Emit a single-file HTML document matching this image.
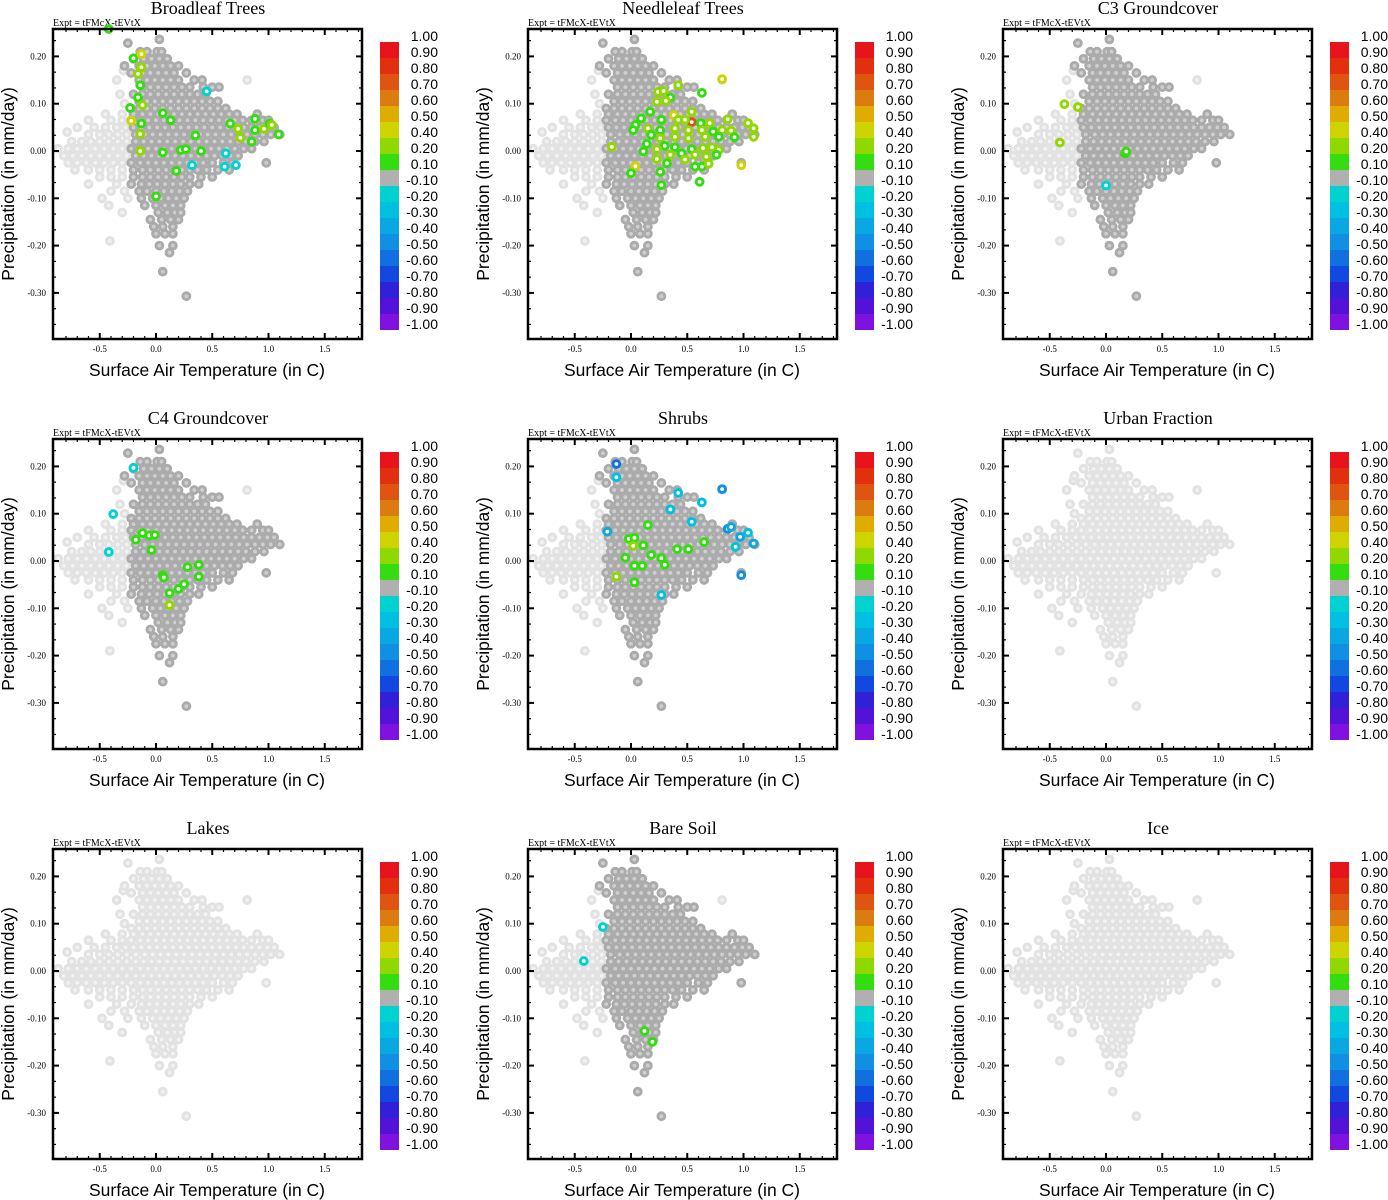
<!DOCTYPE html>
<html><head><meta charset="utf-8">
<style>
html,body{margin:0;padding:0;background:#fff;}
svg{display:block;}
.ttl{font-family:"Liberation Serif",serif;font-size:18px;}
.expt{font-family:"Liberation Serif",serif;font-size:10px;}
.tick{font-family:"Liberation Serif",serif;font-size:9px;}
.axl{font-family:"Liberation Sans",sans-serif;font-size:17.5px;}
.cbl{font-family:"Liberation Sans",sans-serif;font-size:14px;}
</style></head>
<body>
<svg id="chart" width="1388" height="1200" viewBox="0 0 1388 1200"></svg>
<script>
// ---- data ----
const panelTitles = ["Broadleaf Trees","Needleleaf Trees","C3 Groundcover","C4 Groundcover","Shrubs","Urban Fraction","Lakes","Bare Soil","Ice"];
const panelActive = [true,true,true,true,true,false,false,true,false];
const xTicks = [-0.5,0.0,0.5,1.0,1.5];
const xTickLabels = ["-0.5","0.0","0.5","1.0","1.5"];
const yTicks = [0.2,0.1,0.0,-0.1,-0.2,-0.3];
const yTickLabels = ["0.20","0.10","0.00","-0.10","-0.20","-0.30"];
const cbLabels = ["1.00","0.90","0.80","0.70","0.60","0.50","0.40","0.20","0.10","-0.10","-0.20","-0.30","-0.40","-0.50","-0.60","-0.70","-0.80","-0.90","-1.00"];
const cbLevels = [1.0,0.9,0.8,0.7,0.6,0.5,0.4,0.2,0.1,-0.1,-0.2,-0.3,-0.4,-0.5,-0.6,-0.7,-0.8,-0.9,-1.0];
const cbColors = ["#e8141c","#e2300f","#de5410","#dc7c10","#e0ac00","#cdd400","#8fd800","#33dd10","#b0b0b0","#00d2d2","#00c0e2","#0aa8e2","#1090e2","#1070e0","#1048e0","#3020d8","#5212d8","#8012e0"];

const corePts = [
[0.03,0.236],[-0.25,0.228],
[-0.14,0.21],[-0.08,0.21],[0.01,0.21],[0.05,0.21],
[-0.2,0.195],[-0.11,0.195],[-0.04,0.195],[0.03,0.195],[0.1,0.195],
[-0.28,0.18],[-0.15,0.18],[-0.08,0.18],[-0.01,0.18],[0.06,0.18],[0.13,0.18],[0.2,0.18],
[-0.22,0.165],[-0.12,0.165],[-0.05,0.165],[0.02,0.165],[0.09,0.165],[0.16,0.165],[0.27,0.165],
[-0.15,0.15],[-0.08,0.15],[-0.01,0.15],[0.06,0.15],[0.13,0.15],[0.2,0.15],[0.34,0.15],[0.41,0.15],
[-0.12,0.135],[-0.05,0.135],[0.02,0.135],[0.09,0.135],[0.16,0.135],[0.23,0.135],[0.3,0.135],[0.42,0.135],[0.5,0.135],[0.56,0.135],
[-0.2,0.12],[-0.12,0.12],[-0.05,0.12],[0.02,0.12],[0.09,0.12],[0.16,0.12],[0.23,0.12],[0.3,0.12],[0.37,0.12],[0.44,0.12],
[-0.15,0.105],[-0.08,0.105],[-0.01,0.105],[0.06,0.105],[0.13,0.105],[0.2,0.105],[0.27,0.105],[0.34,0.105],[0.41,0.105],[0.48,0.105],[0.55,0.105],
[-0.22,0.09],[-0.15,0.09],[-0.08,0.09],[-0.01,0.09],[0.06,0.09],[0.13,0.09],[0.2,0.09],[0.27,0.09],[0.34,0.09],[0.41,0.09],[0.48,0.09],[0.55,0.09],[0.62,0.09],
[-0.2,0.078],[-0.12,0.078],[-0.05,0.078],[0.02,0.078],[0.09,0.078],[0.16,0.078],[0.23,0.078],[0.3,0.078],[0.37,0.078],[0.44,0.078],[0.51,0.078],[0.58,0.078],[0.65,0.078],[0.72,0.078],[0.9,0.078],
[-0.22,0.065],[-0.14,0.065],[-0.07,0.065],[0,0.065],[0.07,0.065],[0.14,0.065],[0.21,0.065],[0.28,0.065],[0.35,0.065],[0.42,0.065],[0.49,0.065],[0.56,0.065],[0.63,0.065],[0.7,0.065],[0.77,0.065],[0.85,0.065],[0.95,0.065],[1.0,0.065],
[-0.2,0.05],[-0.13,0.05],[-0.06,0.05],[0.01,0.05],[0.08,0.05],[0.15,0.05],[0.22,0.05],[0.29,0.05],[0.36,0.05],[0.43,0.05],[0.5,0.05],[0.57,0.05],[0.64,0.05],[0.71,0.05],[0.78,0.05],[0.85,0.05],[0.92,0.05],[0.99,0.05],[1.05,0.05],
[-0.18,0.035],[-0.1,0.035],[-0.03,0.035],[0.04,0.035],[0.11,0.035],[0.18,0.035],[0.25,0.035],[0.32,0.035],[0.39,0.035],[0.46,0.035],[0.53,0.035],[0.6,0.035],[0.67,0.035],[0.74,0.035],[0.81,0.035],[0.88,0.035],[0.95,0.035],[1.02,0.035],[1.1,0.035],
[-0.18,0.02],[-0.11,0.02],[-0.04,0.02],[0.03,0.02],[0.1,0.02],[0.17,0.02],[0.24,0.02],[0.31,0.02],[0.38,0.02],[0.45,0.02],[0.52,0.02],[0.59,0.02],[0.66,0.02],[0.73,0.02],[0.8,0.02],[0.88,0.02],[0.96,0.02],
[-0.22,0.005],[-0.14,0.005],[-0.07,0.005],[0,0.005],[0.07,0.005],[0.14,0.005],[0.21,0.005],[0.28,0.005],[0.35,0.005],[0.42,0.005],[0.49,0.005],[0.56,0.005],[0.63,0.005],[0.7,0.005],[0.78,0.005],[0.85,0.005],
[-0.18,-0.01],[-0.11,-0.01],[-0.04,-0.01],[0.03,-0.01],[0.1,-0.01],[0.17,-0.01],[0.24,-0.01],[0.31,-0.01],[0.38,-0.01],[0.45,-0.01],[0.52,-0.01],[0.59,-0.01],[0.66,-0.01],[0.73,-0.01],
[-0.22,-0.025],[-0.14,-0.025],[-0.07,-0.025],[0,-0.025],[0.07,-0.025],[0.14,-0.025],[0.21,-0.025],[0.28,-0.025],[0.35,-0.025],[0.42,-0.025],[0.5,-0.025],[0.6,-0.025],[0.68,-0.025],[0.98,-0.025],
[-0.2,-0.04],[-0.12,-0.04],[-0.05,-0.04],[0.02,-0.04],[0.09,-0.04],[0.16,-0.04],[0.23,-0.04],[0.3,-0.04],[0.37,-0.04],[0.45,-0.04],[0.55,-0.04],[0.65,-0.04],
[-0.2,-0.055],[-0.12,-0.055],[-0.05,-0.055],[0.02,-0.055],[0.09,-0.055],[0.16,-0.055],[0.23,-0.055],[0.3,-0.055],[0.4,-0.055],[0.5,-0.055],
[-0.22,-0.07],[-0.13,-0.07],[-0.06,-0.07],[0.01,-0.07],[0.08,-0.07],[0.15,-0.07],[0.22,-0.07],[0.3,-0.07],[0.38,-0.07],
[-0.15,-0.085],[-0.08,-0.085],[0,-0.085],[0.07,-0.085],[0.14,-0.085],[0.21,-0.085],[0.28,-0.085],
[-0.13,-0.1],[-0.03,-0.1],[0.04,-0.1],[0.11,-0.1],[0.18,-0.1],[0.25,-0.1],
[-0.1,-0.115],[0.0,-0.115],[0.08,-0.115],[0.15,-0.115],[0.22,-0.115],
[0.02,-0.13],[0.1,-0.13],[0.17,-0.13],[0.22,-0.13],
[-0.05,-0.145],[0.05,-0.145],[0.13,-0.145],[0.2,-0.145],
[-0.02,-0.16],[0.06,-0.16],[0.15,-0.16],
[0.0,-0.175],[0.08,-0.175],[0.15,-0.175],
[0.03,-0.2],[0.15,-0.2],[0.12,-0.215],[0.06,-0.255],[0.27,-0.307]
];
const wingPts = [
[-0.29,0.17],[-0.35,0.15],[-0.32,0.12],[0.12,0.165],[0.81,0.15],[-0.28,0.1],
[-0.45,0.078],[-0.3,0.078],[-0.6,0.065],[-0.4,0.065],[-0.3,0.065],
[-0.7,0.05],[-0.55,0.05],[-0.45,0.05],[-0.35,0.05],[-0.27,0.05],
[-0.79,0.04],[-0.6,0.035],[-0.5,0.035],[-0.42,0.035],[-0.34,0.035],[-0.26,0.035],
[-0.75,0.02],[-0.66,0.02],[-0.58,0.02],[-0.5,0.02],[-0.42,0.02],[-0.34,0.02],[-0.26,0.02],
[-0.87,0.005],[-0.78,0.005],[-0.7,0.005],[-0.62,0.005],[-0.54,0.005],[-0.46,0.005],[-0.38,0.005],[-0.3,0.005],
[-0.82,-0.01],[-0.74,-0.01],[-0.66,-0.01],[-0.58,-0.01],[-0.5,-0.01],[-0.42,-0.01],[-0.34,-0.01],[-0.26,-0.01],
[-0.78,-0.025],[-0.7,-0.025],[-0.62,-0.025],[-0.54,-0.025],[-0.46,-0.025],[-0.38,-0.025],[-0.3,-0.025],
[-0.72,-0.04],[-0.6,-0.04],[-0.5,-0.04],[-0.4,-0.04],[-0.3,-0.04],
[-0.5,-0.055],[-0.4,-0.055],[-0.3,-0.055],[-0.6,-0.07],[-0.35,-0.07],
[-0.4,-0.085],[-0.28,-0.085],[-0.48,-0.1],[-0.25,-0.1],[-0.42,-0.115],[-0.3,-0.13],[-0.41,-0.19]
];
const colBroadleaf = [
[-0.42,0.258,0.15],[-0.2,0.196,0.15],[-0.13,0.205,0.45],[-0.13,0.177,0.3],[-0.16,0.163,0.3],[-0.14,0.139,0.15],[-0.16,0.113,0.15],[-0.12,0.097,0.3],[-0.23,0.091,0.15],[-0.22,0.064,0.45],[-0.13,0.058,0.15],[-0.14,0.036,0.3],[-0.14,0.0,0.3],
[0.06,0.08,0.15],[0.13,0.065,0.15],[0.06,-0.003,0.15],[0.18,-0.042,0.15],[0.0,-0.096,0.15],[0.22,0.002,0.15],[0.265,0.004,0.15],[0.35,0.033,0.15],[0.4,0.0,0.15],
[0.66,0.058,0.15],[0.73,0.047,0.3],[0.75,0.028,0.3],[0.85,0.02,0.15],[0.88,0.068,0.15],[0.88,0.044,0.15],[0.96,0.047,0.3],[1.01,0.058,0.15],[1.03,0.055,0.3],[1.09,0.035,0.15],
[0.45,0.126,-0.15],[0.61,-0.033,-0.15],[0.71,-0.03,-0.15],[0.32,-0.03,-0.15],[0.62,-0.005,-0.15]
];
const colNeedleleaf = [
[0.81,0.152,0.45],[0.42,0.139,0.3],[0.63,0.123,0.15],[0.24,0.125,0.3],[0.29,0.127,0.3],[0.35,0.113,0.15],[0.23,0.104,0.3],[0.31,0.106,0.3],
[0.17,0.083,0.15],[0.38,0.076,0.45],[0.54,0.083,0.3],[0.54,0.061,0.75],[0.09,0.069,0.15],[0.27,0.066,0.15],[0.42,0.066,0.3],[0.48,0.066,0.3],
[0.62,0.059,0.15],[0.70,0.059,0.3],[0.86,0.067,0.3],[1.04,0.059,0.3],[1.09,0.048,0.3],[0.04,0.055,0.15],[0.02,0.044,0.15],[0.15,0.048,0.3],
[0.26,0.044,0.15],[0.39,0.048,0.3],[0.51,0.044,0.3],[0.63,0.044,0.3],[0.73,0.041,0.15],[0.81,0.044,0.3],[0.89,0.043,0.3],[1.09,0.03,0.3],
[0.92,0.029,0.15],[0.78,0.03,0.15],[0.66,0.03,0.3],[0.51,0.027,0.3],[0.39,0.03,0.3],[0.26,0.027,0.3],[0.18,0.034,0.15],[-0.17,0.009,0.3],
[0.14,0.015,0.15],[0.30,0.011,0.15],[0.39,0.008,0.15],[0.54,0.004,0.15],[0.64,0.006,0.3],[0.72,0.008,0.3],[0.78,0.002,0.3],[0.11,-0.001,0.15],
[0.23,0.004,0.3],[0.45,-0.005,0.15],[0.57,-0.008,0.3],[0.67,-0.012,0.3],[0.76,-0.008,0.15],[0.35,-0.008,0.3],[0.23,-0.017,0.3],[0.32,-0.026,0.15],
[0.04,-0.032,0.45],[0.48,-0.018,0.3],[0.57,-0.033,0.15],[0.63,-0.033,0.15],[0.69,-0.027,0.3],[0.98,-0.03,0.45],[0.0,-0.047,0.15],[0.26,-0.044,0.15],
[0.27,-0.072,0.15],[0.61,-0.065,0.15]
];
const colC3 = [[-0.37,0.099,0.3],[-0.25,0.093,0.3],[-0.41,0.018,0.3],[0.17,-0.005,0.15],[0.18,-0.001,0.15],[0.0,-0.073,-0.15]];
const colC4 = [
[-0.2,0.197,-0.15],[-0.38,0.099,-0.15],[-0.42,0.019,-0.15],
[-0.12,0.059,0.15],[-0.06,0.054,0.15],[-0.01,0.055,0.15],[-0.18,0.045,0.15],[-0.04,0.023,0.15],[0.06,-0.030,0.15],[0.07,-0.035,0.15],
[0.28,-0.013,0.15],[0.38,-0.008,0.15],[0.38,-0.033,0.15],[0.25,-0.049,0.15],[0.2,-0.059,0.15],[0.12,-0.068,0.15],[0.12,-0.093,0.3]
];
const colShrubs = [
[0.15,0.076,0.15],[-0.02,0.047,0.15],[0.03,0.049,0.15],[0.02,0.032,0.3],[0.11,0.033,0.15],[-0.05,0.007,0.15],[0.18,0.013,0.15],[0.27,0.006,0.15],
[0.30,-0.008,0.15],[0.03,-0.010,0.15],[0.10,-0.010,0.15],[0.41,0.025,0.15],[0.51,0.025,0.15],[0.65,0.040,0.15],[-0.13,-0.033,0.3],[0.03,-0.045,0.15],
[-0.13,0.205,-0.55],[-0.13,0.177,-0.3],[0.42,0.144,-0.3],[0.63,0.124,-0.25],[0.81,0.152,-0.45],[0.35,0.109,-0.25],[0.54,0.083,-0.3],[0.86,0.068,-0.5],
[0.89,0.072,-0.35],[0.97,0.051,-0.35],[1.04,0.060,-0.25],[1.09,0.037,-0.4],[0.93,0.030,-0.25],[0.98,-0.030,-0.45],[-0.21,0.062,-0.4],[0.27,-0.072,-0.25]
];
const colUrban = [];
const colLakes = [];
const colBareSoil = [[0.12,-0.127,0.15],[0.19,-0.15,0.15],[-0.42,0.021,-0.15],[-0.25,0.093,-0.15]];
const colIce = [];
const panelColoured = [colBroadleaf,colNeedleleaf,colC3,colC4,colShrubs,colUrban,colLakes,colBareSoil,colIce];

// ---- drawing ----
const NS = "http://www.w3.org/2000/svg";
const svg = document.getElementById("chart");
const BOX_L = 53, BOX_R = 362, BOX_T = 29, BOX_B = 339;
function sx(x){ return 156 + 112.5 * x; }
function sy(y){ return 151 - 473 * y; }
function mk(tag, attrs, parent){
  const e = document.createElementNS(NS, tag);
  for (const k in attrs) e.setAttribute(k, attrs[k]);
  parent.appendChild(e);
  return e;
}
function colorFor(v){
  for (let i = 0; i < cbColors.length; i++){
    if (v <= cbLevels[i] && v >= cbLevels[i+1]) return cbColors[i];
  }
  return cbColors[8];
}
function ring(parent, x, y, stroke, fill){
  return mk("circle", {cx: sx(x), cy: sy(y), r: 3.4, fill: fill, stroke: stroke, "stroke-width": 3}, parent);
}

for (let p = 0; p < 9; p++){
  const ox = (p % 3) * 475, oy = Math.floor(p / 3) * 410;
  const g = mk("g", {transform: `translate(${ox},${oy})`}, svg);
  
  

  const t = mk("text", {x: 208, y: 14, "text-anchor": "middle", class: "ttl"}, g);
  t.textContent = panelTitles[p];
  
  

  const ex = mk("text", {x: 53, y: 26, class: "expt"}, g);
  ex.textContent = "Expt = tFMcX-tEVtX";
  
  

  const clipId = "clip" + p;
  const cp = mk("clipPath", {id: clipId}, g);
  mk("rect", {x: BOX_L - 6, y: BOX_T - 10, width: BOX_R - BOX_L + 12, height: BOX_B - BOX_T + 12}, cp);
  const pts = mk("g", {"clip-path": `url(#${clipId})`}, g);
  
  

  const lightS = "#e2e2e2", lightF = "#f2f2f2", darkS = "#ababab", darkF = "#cfcfcf";
  wingPts.forEach(d => {
    const c = ring(pts, d[0], d[1], lightS, lightF);
    
    
  });
  corePts.forEach(d => {
    const c = panelActive[p] ? ring(pts, d[0], d[1], darkS, darkF) : ring(pts, d[0], d[1], lightS, lightF);
    
    
  });
  panelColoured[p].forEach(d => {
    const col = colorFor(d[2]);
    const c = ring(pts, d[0], d[1], col, "#ffffff");
    
    
  });

  const fr = mk("rect", {x: BOX_L, y: BOX_T, width: BOX_R - BOX_L, height: BOX_B - BOX_T, fill: "none", stroke: "#000", "stroke-width": 2.5}, g);
  
  

  for (let k = -9; k <= 18; k++){
    const xv = k / 10, X = sx(xv);
    if (X < BOX_L + 2 || X > BOX_R - 2) continue;
    const major = (k % 5 === 0);
    const L = major ? 6 : 3;
    mk("line", {x1: X, y1: BOX_B, x2: X, y2: BOX_B - L, stroke: "#000", "stroke-width": major ? 2 : 1.2}, g);
    mk("line", {x1: X, y1: BOX_T, x2: X, y2: BOX_T + L, stroke: "#000", "stroke-width": major ? 2 : 1.2}, g);
  }
  xTicks.forEach((v, i) => {
    const tl = mk("text", {x: sx(v), y: 352, "text-anchor": "middle", class: "tick"}, g);
    tl.textContent = xTickLabels[i];
    
    
  });
  for (let k = -12; k <= 8; k++){
    const yv = k / 30, Y = sy(yv);
    if (Y < BOX_T + 2 || Y > BOX_B - 2) continue;
    const major = (k % 3 === 0);
    const L = major ? 6 : 3;
    mk("line", {x1: BOX_L, y1: Y, x2: BOX_L + L, y2: Y, stroke: "#000", "stroke-width": major ? 2 : 1.2}, g);
    mk("line", {x1: BOX_R, y1: Y, x2: BOX_R - L, y2: Y, stroke: "#000", "stroke-width": major ? 2 : 1.2}, g);
  }
  yTicks.forEach((v, i) => {
    const tl = mk("text", {x: 46, y: sy(v) + 3, "text-anchor": "end", class: "tick"}, g);
    tl.textContent = yTickLabels[i];
    
    
  });

  const xl = mk("text", {x: 207, y: 376, "text-anchor": "middle", class: "axl"}, g);
  xl.textContent = "Surface Air Temperature (in C)";
  
  
  const yl = mk("text", {x: 0, y: 0, "text-anchor": "middle", class: "axl", transform: "translate(14,184) rotate(-90)"}, g);
  yl.textContent = "Precipitation (in mm/day)";
  
  

  const cb = mk("g", {}, g);
  
  
  cbColors.forEach((c, i) => {
    const r = mk("rect", {x: 380, y: 42 + 16 * i, width: 19, height: 16, fill: c}, cb);
    
    
  });
  cbLabels.forEach((s, i) => {
    const tl = mk("text", {x: 438, y: 41 + 16 * i, "text-anchor": "end", class: "cbl"}, cb);
    tl.textContent = s;
    
    
  });
}
</script>
</body></html>
